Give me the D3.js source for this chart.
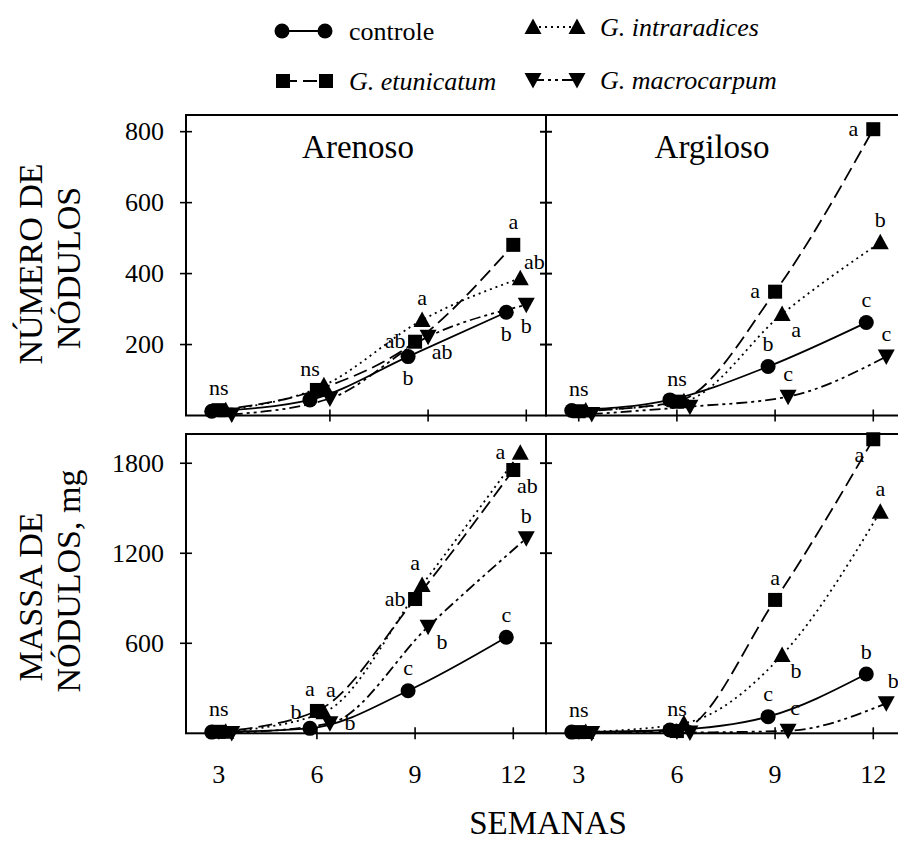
<!DOCTYPE html>
<html>
<head>
<meta charset="utf-8">
<script src="https://cdn.jsdelivr.net/npm/d3@7"></script>
<style>
  html, body { margin: 0; padding: 0; background: #fff; }
  svg { display: block; font-family: "Liberation Serif", "Times New Roman", serif; }
</style>
</head>
<body>
<svg id="chart" width="898" height="843"></svg>
<script>
// Weeks after inoculation
const weeks = [3, 6, 9, 12];

// Treatments (order: controle, G. etunicatum, G. intraradices, G. macrocarpum)
const treatments = ["controle", "G. etunicatum", "G. intraradices", "G. macrocarpum"];

// Número de nódulos – solo arenoso
const numeroArenoso = [
  [12, 44, 166, 291],
  [15, 72, 208, 481],
  [15, 85, 269, 387],
  [3, 48, 222, 312]
];
// Número de nódulos – solo argiloso
const numeroArgiloso = [
  [14, 44, 138, 262],
  [12, 39, 349, 807],
  [14, 40, 286, 488],
  [4, 25, 53, 166]
];
// Massa de nódulos (mg) – solo arenoso
const massaArenoso = [
  [8, 33, 284, 640],
  [10, 149, 895, 1755],
  [10, 140, 989, 1870],
  [2, 67, 711, 1300]
];
// Massa de nódulos (mg) – solo argiloso
const massaArgiloso = [
  [8, 22, 111, 395],
  [8, 15, 889, 1960],
  [8, 67, 522, 1477],
  [2, 5, 17, 200]
];

// Mean-separation letters: [week, treatment index, letter, placement]
const letrasNumeroArenoso = [
  [3, 1, "ns", "n"], [6, 2, "ns", "nw"],
  [9, 2, "a", "n"], [9, 1, "ab", "w"], [9, 0, "b", "s"], [9, 3, "ab", "se"],
  [12, 1, "a", "n"], [12, 2, "ab", "ne"], [12, 3, "b", "s"], [12, 0, "b", "s"]
];
const letrasNumeroArgiloso = [
  [3, 1, "ns", "n"], [6, 1, "ns", "n"],
  [9, 1, "a", "w"], [9, 2, "a", "se"], [9, 0, "b", "n"], [9, 3, "c", "n"],
  [12, 1, "a", "w"], [12, 2, "b", "n"], [12, 0, "c", "n"], [12, 3, "c", "n"]
];
const letrasMassaArenoso = [
  [3, 1, "ns", "n"],
  [6, 0, "b", "nw"], [6, 1, "a", "nnw"], [6, 2, "a", "nne"], [6, 3, "b", "e"],
  [9, 1, "ab", "w"], [9, 2, "a", "nnw"], [9, 3, "b", "se"], [9, 0, "c", "n"],
  [12, 2, "a", "w"], [12, 1, "ab", "se"], [12, 3, "b", "n"], [12, 0, "c", "n"]
];
const letrasMassaArgiloso = [
  [3, 1, "ns", "n"], [6, 1, "ns", "n"],
  [9, 1, "a", "n"], [9, 2, "b", "se"], [9, 0, "c", "n"], [9, 3, "c", "nne"],
  [12, 1, "a", "sw"], [12, 2, "a", "n"], [12, 0, "b", "n"], [12, 3, "b", "nne"]
];

// Axis ticks
const ticksNumero = [200, 400, 600, 800];
const ticksMassa = [600, 1200, 1800];
const soilTitles = ["Arenoso", "Argiloso"];

// ---------- drawing ----------
const svg = d3.select("#chart");
svg.append("rect").attr("width", 898).attr("height", 843).attr("fill", "#fff");

const dashes = [null, "14,6", "2,4", "11,4,3,4,3,4"];
const dodge = [-7, 0, 7, 13];            // horizontal offset of each treatment, px
const placement = {
  n: [0, -22], s: [0, 22], w: [-20, 0], e: [20, 0],
  ne: [14, -16], nw: [-14, -16], se: [14, 16], sw: [-14, 16],
  nnw: [-7, -22], nne: [7, -22]
};

function marker(g, i, x, y) {
  if (i === 0) {
    g.append("circle").attr("cx", x).attr("cy", y).attr("r", 7.5).attr("fill", "#000");
  } else if (i === 1) {
    g.append("rect").attr("x", x - 7).attr("y", y - 7).attr("width", 14).attr("height", 14).attr("fill", "#000");
  } else if (i === 2) {
    g.append("path").attr("d", `M${x},${y - 8.5}L${x + 8.5},${y + 7}L${x - 8.5},${y + 7}Z`).attr("fill", "#000");
  } else {
    g.append("path").attr("d", `M${x},${y + 8.5}L${x + 8.5},${y - 7}L${x - 8.5},${y - 7}Z`).attr("fill", "#000");
  }
}

const cols = [186, 546];
const panelW = 360;
const rows = [
  { top: 115, bottom: 415.5, max: 847, ticks: ticksNumero },
  { top: 434, bottom: 733.3, max: 1995, ticks: ticksMassa }
];
const panels = [
  { row: 0, col: 0, data: numeroArenoso, letras: letrasNumeroArenoso, tickShift: 13 },
  { row: 0, col: 1, data: numeroArgiloso, letras: letrasNumeroArgiloso, tickShift: 0 },
  { row: 1, col: 0, data: massaArenoso, letras: letrasMassaArenoso, tickShift: 0 },
  { row: 1, col: 1, data: massaArgiloso, letras: letrasMassaArgiloso, tickShift: 0 }
];

panels.forEach(p => {
  const r = rows[p.row];
  const x0 = cols[p.col];
  const x = d3.scaleLinear().domain([2, 13]).range([x0, x0 + panelW]);
  const y = d3.scaleLinear().domain([0, r.max]).range([r.bottom, r.top]);
  const g = svg.append("g");

  // frame
  g.append("rect").attr("x", x0).attr("y", r.top).attr("width", panelW).attr("height", r.bottom - r.top)
    .attr("fill", "none").attr("stroke", "#000").attr("stroke-width", 2);

  // y ticks on both sides, crossing the frame
  [x0, x0 + panelW].forEach(xx => {
    g.selectAll(null).data(r.ticks).enter().append("line")
      .attr("x1", xx - 6).attr("x2", xx + 6)
      .attr("y1", d => y(d)).attr("y2", d => y(d))
      .attr("stroke", "#000").attr("stroke-width", 1.6);
  });
  // x ticks
  g.selectAll(null).data(weeks).enter().append("line")
    .attr("x1", d => x(d) + p.tickShift).attr("x2", d => x(d) + p.tickShift)
    .attr("y1", r.bottom - 6).attr("y2", r.bottom + 6)
    .attr("stroke", "#000").attr("stroke-width", 1.6);

  // y tick labels on the left panels
  if (p.col === 0) {
    g.selectAll(null).data(r.ticks).enter().append("text")
      .attr("x", x0 - 22).attr("y", d => y(d)).attr("dy", "0.33em")
      .attr("text-anchor", "end").attr("font-size", 26).text(d => d);
  }
  // x tick labels under the bottom row
  if (p.row === 1) {
    g.selectAll(null).data(weeks).enter().append("text")
      .attr("x", d => x(d)).attr("y", 783)
      .attr("text-anchor", "middle").attr("font-size", 26).text(d => d);
  }
  // soil titles on the top row
  if (p.row === 0) {
    g.append("text").attr("x", x0 + (p.col === 0 ? 172 : 166)).attr("y", 158)
      .attr("text-anchor", "middle").attr("font-size", 33).text(soilTitles[p.col]);
  }

  const px = (i, w) => x(w) + dodge[i];
  const line = d3.line().curve(d3.curveMonotoneX);

  // lines
  p.data.forEach((vals, i) => {
    const pts = weeks.map((w, k) => [px(i, w), y(vals[k])]);
    g.append("path").attr("d", line(pts)).attr("fill", "none")
      .attr("stroke", "#000").attr("stroke-width", 1.8)
      .attr("stroke-dasharray", dashes[i]);
  });
  // markers
  p.data.forEach((vals, i) => {
    weeks.forEach((w, k) => marker(g, i, px(i, w), y(vals[k])));
  });
  // letters
  p.letras.forEach(([w, i, txt, pos]) => {
    const k = weeks.indexOf(w);
    const [dx, dy] = placement[pos];
    g.append("text")
      .attr("x", px(i, w) + dx).attr("y", y(p.data[i][k]) + dy)
      .attr("dy", "0.3em").attr("text-anchor", "middle")
      .attr("font-size", 22).text(txt);
  });
});

// y-axis titles
const yTitles = [
  { text: "NÚMERO DE", x: 42, y: 264 },
  { text: "NÓDULOS", x: 80, y: 268 },
  { text: "MASSA DE", x: 42, y: 597 },
  { text: "NÓDULOS, mg", x: 80, y: 581 }
];
yTitles.forEach(t => {
  svg.append("text").attr("transform", `translate(${t.x},${t.y}) rotate(-90)`)
    .attr("text-anchor", "middle").attr("font-size", 34).text(t.text);
});

// x-axis title
svg.append("text").attr("x", 548).attr("y", 834).attr("text-anchor", "middle")
  .attr("font-size", 33).text("SEMANAS");

// legend
const legend = [
  { i: 0, x1: 282, x2: 325, y: 31, tx: 349 },
  { i: 1, x1: 283, x2: 326, y: 81, tx: 349 },
  { i: 2, x1: 533, x2: 577, y: 27, tx: 600 },
  { i: 3, x1: 533, x2: 577, y: 80, tx: 600 }
];
legend.forEach(l => {
  const g = svg.append("g");
  g.append("line").attr("x1", l.x1).attr("x2", l.x2).attr("y1", l.y).attr("y2", l.y)
    .attr("stroke", "#000").attr("stroke-width", 1.8).attr("stroke-dasharray", dashes[l.i]);
  marker(g, l.i, l.x1, l.y);
  marker(g, l.i, l.x2, l.y);
  const name = treatments[l.i];
  const t = g.append("text").attr("x", l.tx).attr("y", l.y).attr("dy", "0.33em").attr("font-size", 26);
  if (name.startsWith("G.")) t.attr("font-style", "italic");
  t.text(name);
});
</script>
</body>
</html>
